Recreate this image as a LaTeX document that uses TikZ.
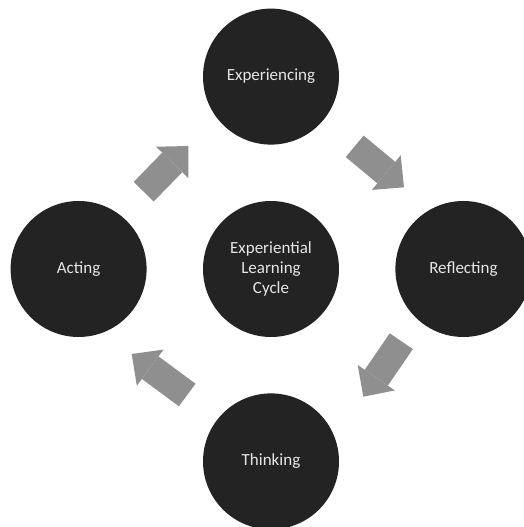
\documentclass[tikz,border=0pt]{standalone}
\usepackage{fontspec}
\setmainfont{Carlito}
\usetikzlibrary{positioning,arrows.meta}
\definecolor{stagefill}{HTML}{232323}
\definecolor{stagetext}{HTML}{E6E6E6}
\definecolor{flowgray}{HTML}{8F8F8F}
\tikzset{stage/.style={circle,fill=stagefill,text=stagetext,inner sep=0pt,minimum size=136pt,align=center,font=\fontsize{17}{20}\selectfont},
	 flow/.style={draw=flowgray,line width=28pt,-{Triangle[length=23pt,width=45pt,line width=0pt]}},
	 node distance = 56pt
	 }

\begin{document}
\begin{tikzpicture}[x=1pt,y=1pt] % four stages round the cycle
	\clip (0,0) rectangle (524,527);
	\node[stage] (elc) at (271,258) {Experiential\\Learning\\Cycle};
	\node[stage] (exp) [above=of elc] {Experiencing};
	\node[stage] (refl) [right=of elc] {Reflecting};
	\node[stage] (think) [below=of elc] {Thinking};
	\node[stage] (act) [left=of elc] {Acting};
	\coordinate (s1) at (143.7,335.3); \coordinate (e1) at (188.3,381);
	\coordinate (s2) at (354.7,380.7); \coordinate (e2) at (404,339.7);
	\coordinate (s3) at (401.3,185.8); \coordinate (e3) at (363.3,130.3);
	\coordinate (s4) at (187.2,132); \coordinate (e4) at (131.7,173);
	\draw[flow] (s1) -- (e1); \draw[flow] (s2) -- (e2);
	\draw[flow] (s3) -- (e3); \draw[flow] (s4) -- (e4);
\end{tikzpicture}
\end{document}
